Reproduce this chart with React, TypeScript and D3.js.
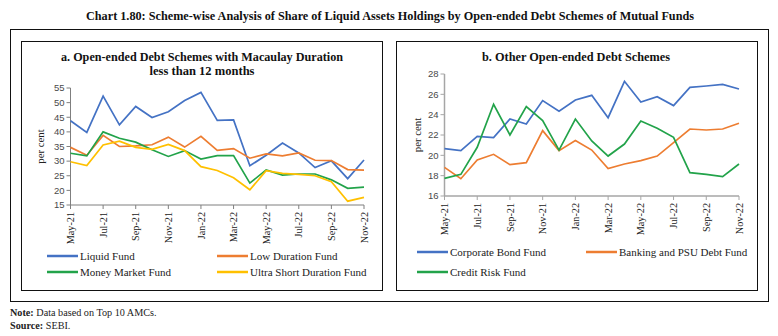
import React from "react";
import * as d3 from "d3";

const months = ["May-21","Jun-21","Jul-21","Aug-21","Sep-21","Oct-21","Nov-21","Dec-21","Jan-22","Feb-22","Mar-22","Apr-22","May-22","Jun-22","Jul-22","Aug-22","Sep-22","Oct-22","Nov-22"];
const tickMonths = ["May-21","Jul-21","Sep-21","Nov-21","Jan-22","Mar-22","May-22","Jul-22","Sep-22","Nov-22"];

const liquidFund = [43.8,39.8,52.2,42.4,48.7,44.9,46.9,50.7,53.5,43.9,44.1,28.4,32.0,36.2,32.8,27.8,30.1,24.0,30.4];
const lowDurationFund = [34.7,32.0,38.8,35.0,35.2,35.6,38.2,34.8,38.5,33.7,34.3,31.0,32.5,31.8,32.8,30.3,30.2,27.1,26.9];
const moneyMarketFund = [32.7,31.8,40.0,37.8,36.5,33.9,31.6,33.6,30.7,31.9,31.9,22.5,27.0,25.2,25.6,25.6,23.6,20.7,21.1];
const ultraShortFund = [29.8,28.5,35.5,36.8,34.7,34.0,35.7,33.6,28.1,26.8,24.3,20.2,26.7,25.8,25.5,25.0,23.0,16.3,17.6];

const corporateBondFund = [20.66,20.46,21.87,21.74,23.57,23.08,25.38,24.33,25.44,25.9,23.7,27.28,25.25,25.77,24.89,26.69,26.82,26.98,26.52];
const bankingPsuFund = [18.82,17.7,19.54,20.1,19.08,19.28,22.43,20.46,21.45,20.52,18.69,19.15,19.48,19.93,21.25,22.59,22.49,22.59,23.15];
const creditRiskFund = [17.74,18.13,20.79,25.02,22.0,24.79,23.41,20.52,23.57,21.41,19.93,21.11,23.38,22.66,21.77,18.3,18.13,17.9,19.15];

const leftTicks = [15,20,25,30,35,40,45,50,55];
const rightTicks = [16,18,20,22,24,26,28];

const C_BLUE = "#4472c4";
const C_ORANGE = "#ed7d31";
const C_GREEN = "#22a34a";
const C_YELLOW = "#ffc000";

const SERIF = "'Liberation Serif', 'DejaVu Serif', serif";
const SANS = "'Liberation Sans', Arial, sans-serif";

type Series = { name: string; values: number[]; color: string };

function Panel(props: {
  x0: number; x1: number; yTop: number; yBot: number;
  domain: [number, number]; ticks: number[]; series: Series[];
  axisColor: string; axisWidth: number; ylabelX: number;
}) {
  const { x0, x1, yTop, yBot, domain, ticks, series, axisColor, axisWidth, ylabelX } = props;
  const x = d3.scalePoint<string>().domain(months).range([x0, x1]);
  const y = d3.scaleLinear().domain(domain).range([yBot, yTop]);
  const line = d3.line<number>().x((_, i) => x(months[i]) as number).y((d) => y(d));
  return (
    <g>
      <line x1={x0} x2={x0} y1={yTop} y2={yBot} stroke={axisColor} strokeWidth={axisWidth} />
      <line x1={x0} x2={x1} y1={yBot} y2={yBot} stroke={axisColor} strokeWidth={axisWidth} />
      {ticks.map((t) => (
        <g key={t}>
          <line x1={x0 - 4} x2={x0} y1={y(t)} y2={y(t)} stroke={axisColor} strokeWidth={1} />
          <text x={x0 - 6} y={y(t)} dy="0.35em" textAnchor="end" fontFamily={SANS} fontSize={9.5} fill="#4a4a4a">{t}</text>
        </g>
      ))}
      {tickMonths.map((m) => {
        const xx = x(m) as number;
        return (
          <g key={m}>
            <line x1={xx} x2={xx} y1={yBot} y2={yBot + 4} stroke={axisColor} strokeWidth={1} />
            <text transform={`translate(${xx},${yBot + 7}) rotate(-90)`} dy="0.35em" textAnchor="end" fontFamily={SERIF} fontSize={10.2} fill="#222">{m}</text>
          </g>
        );
      })}
      <text transform={`translate(${ylabelX},${(yTop + yBot) / 2}) rotate(-90)`} textAnchor="middle" dy="0.35em" fontFamily={SERIF} fontSize={10.8} fill="#222">per cent</text>
      {series.map((s) => (
        <path key={s.name} d={line(s.values) || ""} fill="none" stroke={s.color} strokeWidth={1.7} strokeLinejoin="miter" />
      ))}
    </g>
  );
}

function Legend(props: { items: { name: string; color: string; x: number; y: number }[] }) {
  return (
    <g>
      {props.items.map((it) => (
        <g key={it.name}>
          <line x1={it.x} x2={it.x + 31} y1={it.y} y2={it.y} stroke={it.color} strokeWidth={2.5} />
          <text x={it.x + 33} y={it.y} dy="0.35em" fontFamily={SERIF} fontSize={11} fill="#222">{it.name}</text>
        </g>
      ))}
    </g>
  );
}

export default function App() {
  const leftSeries: Series[] = [
    { name: "Liquid Fund", values: liquidFund, color: C_BLUE },
    { name: "Low Duration Fund", values: lowDurationFund, color: C_ORANGE },
    { name: "Money Market Fund", values: moneyMarketFund, color: C_GREEN },
    { name: "Ultra Short Duration Fund", values: ultraShortFund, color: C_YELLOW },
  ];
  const rightSeries: Series[] = [
    { name: "Corporate Bond Fund", values: corporateBondFund, color: C_BLUE },
    { name: "Banking and PSU Debt Fund", values: bankingPsuFund, color: C_ORANGE },
    { name: "Credit Risk Fund", values: creditRiskFund, color: C_GREEN },
  ];
  return (
    <svg width={778} height={336} style={{ position: "absolute", left: 0, top: 0, background: "#fff" }}>
      <rect x={0} y={0} width={778} height={336} fill="#fff" />
      <text x={390} y={20} textAnchor="middle" fontFamily={SERIF} fontWeight="bold" fontSize={12} fill="#111" textLength={608} lengthAdjust="spacingAndGlyphs">
        Chart 1.80: Scheme-wise Analysis of Share of Liquid Assets Holdings by Open-ended Debt Schemes of Mutual Funds
      </text>
      <rect x={10.5} y={29.5} width={758} height={272} fill="none" stroke="#111" strokeWidth={1} />
      <rect x={21.5} y={41.5} width={361} height={249} fill="none" stroke="#111" strokeWidth={1} />
      <rect x={396.5} y={41.5} width={361} height={249} fill="none" stroke="#111" strokeWidth={1} />

      <text x={202} y={61} textAnchor="middle" fontFamily={SERIF} fontWeight="bold" fontSize={12} fill="#111" textLength={282} lengthAdjust="spacingAndGlyphs">a. Open-ended Debt Schemes with Macaulay Duration</text>
      <text x={202} y={74.5} textAnchor="middle" fontFamily={SERIF} fontWeight="bold" fontSize={12} fill="#111" textLength={105} lengthAdjust="spacingAndGlyphs">less than 12 months</text>
      <text x={576} y={61} textAnchor="middle" fontFamily={SERIF} fontWeight="bold" fontSize={12} fill="#111" textLength={188} lengthAdjust="spacingAndGlyphs">b. Other Open-ended Debt Schemes</text>

      <Panel x0={70.5} x1={364} yTop={88} yBot={205} domain={[15, 55]} ticks={leftTicks} series={leftSeries} axisColor="#7f7f7f" axisWidth={1} ylabelX={40} />
      <Panel x0={444.5} x1={739} yTop={74} yBot={196} domain={[16, 28]} ticks={rightTicks} series={rightSeries} axisColor="#a6a6a6" axisWidth={1.5} ylabelX={417} />

      <Legend items={[
        { name: "Liquid Fund", color: C_BLUE, x: 47, y: 256 },
        { name: "Low Duration Fund", color: C_ORANGE, x: 217, y: 256 },
        { name: "Money Market Fund", color: C_GREEN, x: 47, y: 272 },
        { name: "Ultra Short Duration Fund", color: C_YELLOW, x: 217, y: 272 },
      ]} />
      <Legend items={[
        { name: "Corporate Bond Fund", color: C_BLUE, x: 417, y: 252 },
        { name: "Banking and PSU Debt Fund", color: C_ORANGE, x: 586, y: 252 },
        { name: "Credit Risk Fund", color: C_GREEN, x: 417, y: 272 },
      ]} />

      <text x={10} y={316} fontFamily={SERIF} fontSize={10.2} fill="#222">
        <tspan fontWeight="bold">Note:</tspan> Data based on Top 10 AMCs.
      </text>
      <text x={10} y={329} fontFamily={SERIF} fontSize={10.2} fill="#222">
        <tspan fontWeight="bold">Source:</tspan> SEBI.
      </text>
    </svg>
  );
}
